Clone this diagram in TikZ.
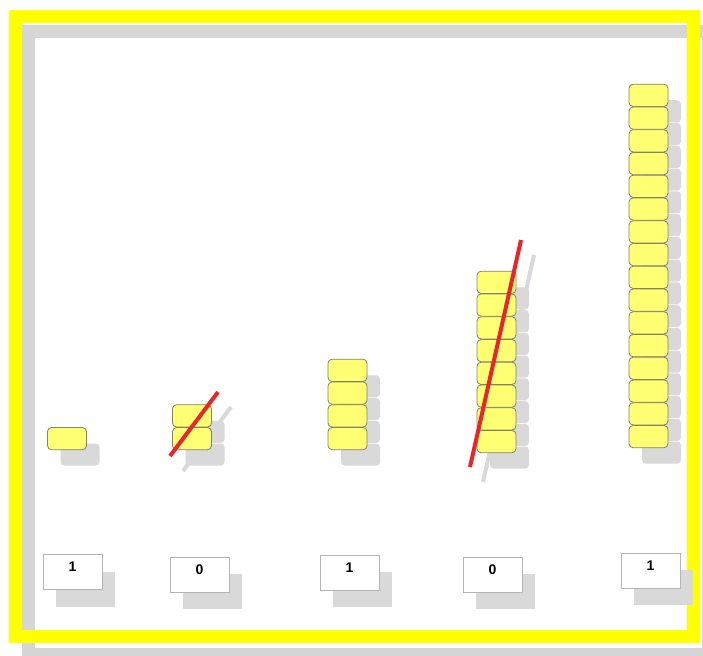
\documentclass[tikz,border=0pt]{standalone}
\usepackage{fontspec}
\setsansfont{Liberation Sans}
\usetikzlibrary{positioning, shadows}
\definecolor{frameyellow}{HTML}{FFFF00}
\definecolor{framegray}{HTML}{D6D6D6}
\definecolor{cubefill}{HTML}{FFFF73}
\definecolor{cubeedge}{HTML}{84845E}
\definecolor{shadegray}{HTML}{D9D9D9}
\definecolor{strikered}{HTML}{E8252B}
\definecolor{tagedge}{HTML}{B4B4B4}

\begin{document}
\begin{tikzpicture}[x=1pt, y=-1pt,
          cube/.style={draw=cubeedge, fill=cubefill, rounded corners=4pt, line width=0.8pt, inner sep=0pt, minimum width=39pt, minimum height=22.2pt, general shadow={fill=shadegray, shadow xshift=13pt, shadow yshift=-16pt}},
          tag/.style={draw=tagedge, fill=white, line width=0.6pt, inner sep=0pt, minimum width=59pt, minimum height=35pt, text depth=10pt, font=\sffamily\bfseries\fontsize{14}{16}\selectfont, general shadow={fill=shadegray, shadow xshift=13pt, shadow yshift=-17pt}},
          cut/.style={draw=strikered, line width=4pt},
          cutshade/.style={draw=shadegray, line width=4pt}]
        \useasboundingbox (0,0) rectangle (703,655);
        \fill[white] (0,0) rectangle (703,655);
        % frame
        \draw[framegray, line width=13pt] (28.5,32) rectangle (708.5,654.5);
        \draw[frameyellow, line width=13pt] (15,16.5) rectangle (693.5,636.5);
        % strike-through points
        \coordinate (cutb1) at (170,456); \coordinate (cutb2) at (218,392);
        \coordinate (cutd1) at (470,467); \coordinate (cutd2) at (521,240);
        \draw[cutshade] ([shift={(13,15)}]cutb1) -- ([shift={(13,15)}]cutb2);
        \draw[cutshade] ([shift={(13,15)}]cutd1) -- ([shift={(13,15)}]cutd2);
        % stacks of cubes, top to bottom
        \foreach \col/\n/\cx/\by in {a/1/67/438.6, b/2/192/438.6, c/4/347.5/438.6, d/8/496.5/441.6, e/16/648.5/436.6}
          \foreach \k in {\n,...,1}
            \node[cube] (\col\k) at (\cx, {\by-22.75*(\k-1)}) {};
        \draw[cut] (cutb1) -- (cutb2);
        \draw[cut] (cutd1) -- (cutd2);
        % digit tags
        \foreach \col/\v/\tx/\ty in {a/1/72.5/572, b/0/199.5/574.5, c/1/349.5/572.5, d/0/492.5/574.5, e/1/650.5/570.5}
          \node[tag] (tag\col) at (\tx,\ty) {\v};
      \end{tikzpicture}
\end{document}
